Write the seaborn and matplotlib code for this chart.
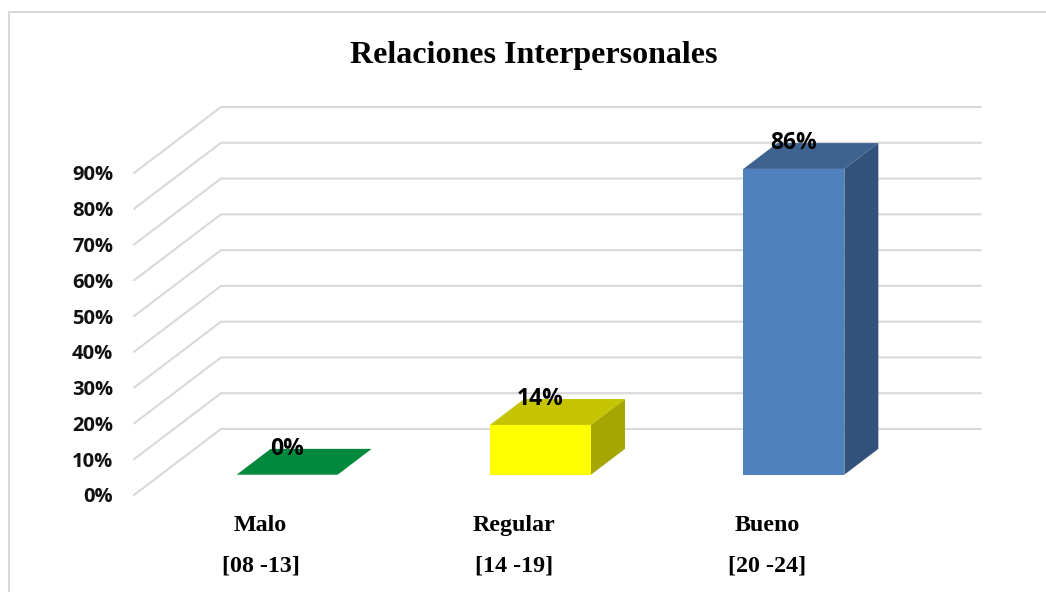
import numpy as np
import pandas as pd
import matplotlib
matplotlib.use("Agg")
import matplotlib.pyplot as plt
from matplotlib.lines import Line2D
from matplotlib.patches import Polygon
import seaborn as sns

categories = ["Malo", "Regular", "Bueno"]
ranges = ["[08 -13]", "[14 -19]", "[20 -24]"]
values = [0, 14, 86]
value_labels = ["0%", "14%", "86%"]
y_ticks = [0, 10, 20, 30, 40, 50, 60, 70, 80, 90]
front_colors = ["#03893D", "#FFFF00", "#4F81BD"]
top_colors = ["#03893D", "#C4C400", "#3E6391"]
side_colors = ["#03893D", "#A6A600", "#32527B"]
GRID = "#D9D9D9"

W, H = 1046, 592
sns.set_theme(style="white")
plt.rcParams["font.family"] = ["Open Sans", "DejaVu Sans"]
fig = plt.figure(figsize=(W / 100, H / 100), dpi=100, facecolor="white")


def axes_at(left, right, bottom, top):
    return fig.add_axes([left / W, 1 - bottom / H, (right - left) / W, (bottom - top) / H])


# front plane of the chart box
L, R, B, T = 134, 894, 495, 173
ax = axes_at(L, R, B, T)
# plane holding the front of the bars: same scales, pushed into the box
bx = axes_at(L + 26.5, R + 26.5, B - 20.3, B - 20.3 - 320)
for a in (ax, bx):
    a.set_facecolor("none")
    a.set_xlim(-0.5, 2.5)
    a.set_ylim(0, 90)
    sns.despine(ax=a, left=True, bottom=True)

px_x = 3.0 / (R - L)
px_y = 90.0 / (B - T)
wall_dx, wall_dy = 87 * px_x, 66 * px_y
bar_dx, bar_dy = 34 * px_x, 26 * px_y

# walls and gridlines
for v in y_ticks:
    ax.add_line(Line2D([-0.5, -0.5 + wall_dx, 2.5 + wall_dx], [v, v + wall_dy, v + wall_dy],
                       color=GRID, lw=1.5, clip_on=False, solid_joinstyle="miter"))

df = pd.DataFrame({"cat": categories, "val": values})
sns.barplot(data=df, x="cat", y="val", hue="cat", palette=front_colors, legend=False,
            width=101 / 253.3, saturation=1, ax=bx, linewidth=0)
bx.set_xlim(-0.5, 2.5)
bx.set_ylim(0, 90)
bx.axis("off")

for i, cont in enumerate(bx.containers):
    p = cont[0]
    x0, x1 = p.get_x(), p.get_x() + p.get_width()
    y1 = p.get_height()
    bx.add_patch(Polygon([(x0, y1), (x1, y1), (x1 + bar_dx, y1 + bar_dy), (x0 + bar_dx, y1 + bar_dy)],
                         closed=True, fc=top_colors[i], ec="none", clip_on=False, zorder=3))
    if y1 > 0:
        bx.add_patch(Polygon([(x1, 0), (x1 + bar_dx, bar_dy), (x1 + bar_dx, y1 + bar_dy), (x1, y1)],
                             closed=True, fc=side_colors[i], ec="none", clip_on=False, zorder=3))
    bx.annotate(value_labels[i], xy=(i, y1), xytext=(0, 18.5), textcoords="offset points",
                ha="center", va="center", fontsize=16.5, fontweight="bold", color="black",
                annotation_clip=False, zorder=5)

# axes text
ax.set_yticks(y_ticks)
ax.set_yticklabels([f"{v}%" for v in y_ticks], fontsize=14.5, fontweight="bold", color="#111111")
ax.set_xticks(range(3))
ax.set_xticklabels([f"{c}\n{r}" for c, r in zip(categories, ranges)],
                   fontsize=17.3, fontweight="bold", family="Liberation Serif",
                   color="black", linespacing=2.2)
ax.tick_params(axis="y", length=0, pad=15)
ax.tick_params(axis="x", length=0, pad=14.5)
ax.set_xlabel("")
ax.set_ylabel("")

fig.text(533.5 / W, 1 - 55.5 / H, "Relaciones Interpersonales", ha="center", va="center",
         fontsize=23, fontweight="bold", family="Liberation Serif", color="black")

# chart frame
fig.add_artist(Line2D([8.5 / W, 8.5 / W, 1], [0, 1 - 11.5 / H, 1 - 11.5 / H],
                      color=GRID, lw=1.5, transform=fig.transFigure))

fig.savefig("out.png", dpi=100)
